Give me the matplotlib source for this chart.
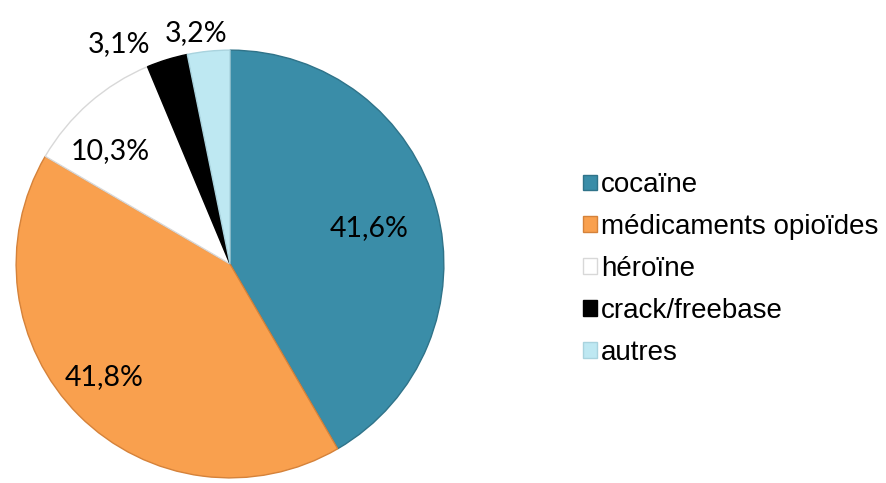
import matplotlib.pyplot as plt

labels = ['cocaïne', 'médicaments opioïdes', 'héroïne', 'crack/freebase', 'autres']
values = [41.6, 41.8, 10.3, 3.1, 3.2]
pct_text = ['41,6%', '41,8%', '10,3%', '3,1%', '3,2%']
colors = ['#3a8da8', '#f9a04e', '#ffffff', '#000000', '#bee8f2']
edges = ['#2f7389', '#d5823a', '#d8d8d8', '#000000', '#a9d3de']

# label positions in pie coordinates (Excel placed them by hand-ish)
label_xy = [(0.65, 0.17), (-0.59, -0.53), (-0.56, 0.53), (-0.52, 1.03), (-0.16, 1.08)]

fig = plt.figure(figsize=(8.87, 4.83), dpi=100)
ax = fig.add_axes([14 / 887, 3 / 483, 432 / 887, 432 / 483])

wedges, _ = ax.pie(values, colors=colors, startangle=90, counterclock=False,
                   radius=1.0, wedgeprops=dict(linewidth=1.0))
for w, ec in zip(wedges, edges):
    w.set_edgecolor(ec)

for (x, y), t in zip(label_xy, pct_text):
    ax.text(x, y, t, ha='center', va='center', fontsize=20.5, family='Lato', color='black')

ax.set_xlim(-1.01, 1.01)
ax.set_ylim(-1.01, 1.01)
ax.set_aspect('equal')

leg = fig.legend(wedges, labels, loc='center left', bbox_to_anchor=(572 / 887, (483 - 269) / 483),
                 frameon=False, prop={'family': 'Liberation Sans', 'size': 20},
                 handlelength=0.5, handleheight=0.5, handletextpad=0.15,
                 labelspacing=0.57, borderaxespad=0)

fig.savefig('out.png', dpi=100)
